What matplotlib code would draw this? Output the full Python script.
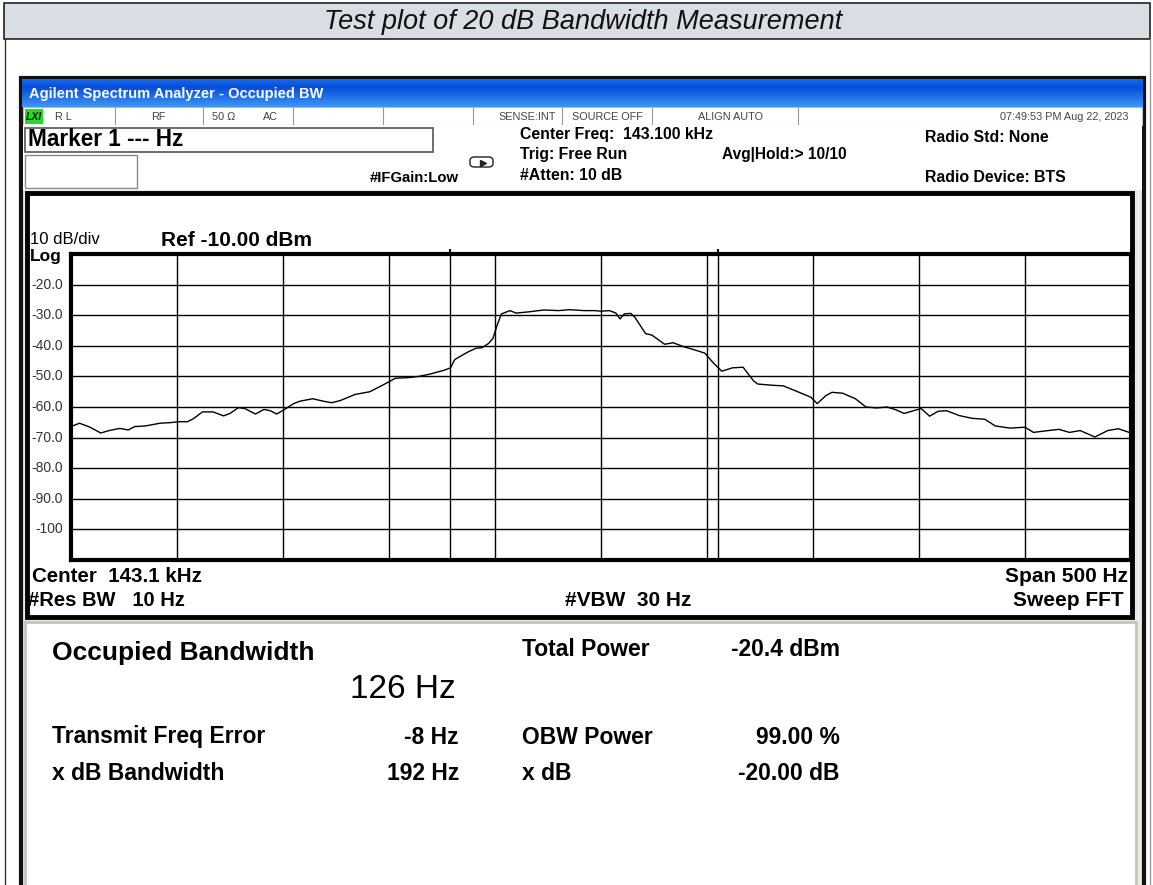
import numpy as np
import matplotlib
matplotlib.use("Agg")
import matplotlib.pyplot as plt
from matplotlib.patches import Rectangle, FancyBboxPatch

# ---- trace (offset from 143.1 kHz, Hz / dBm)
freq_hz = [-250, -246, -241, -236, -232, -227, -223, -220, -215, -208, -203, -199,
           -195, -192, -188, -183, -178, -175, -171, -168, -163, -159, -156, -153,
           -150, -145, -142, -136, -131, -127, -123, -116, -109, -102, -97, -91,
           -86, -81, -74, -71, -69, -63, -59, -56, -53, -51, -49, -47, -43, -40,
           -34, -27, -20, -15, -8, -3, 0, 4, 7, 9, 11, 14, 16, 21, 24, 30, 34, 39,
           44, 49, 53, 57, 62, 67, 72, 74, 81, 86, 91, 99, 102, 106, 109, 114, 120,
           125, 130, 135, 139, 143, 148, 151, 155, 159, 163, 169, 175, 181, 186,
           193, 200, 204, 211, 216, 221, 226, 233, 239, 244, 250]
level_dbm = [-66.4, -65.3, -66.6, -68.5, -67.7, -67.0, -67.5, -66.4, -66.2, -65.3,
             -65.1, -64.8, -64.8, -63.7, -61.6, -61.6, -62.9, -62.1, -60.2, -60.5,
             -62.3, -60.8, -61.2, -62.3, -61.1, -58.9, -58.1, -57.3, -58.1, -58.6,
             -57.9, -55.9, -55.0, -52.5, -50.6, -50.4, -50.0, -49.3, -48.0, -47.2,
             -44.5, -42.1, -40.8, -40.6, -39.2, -37.6, -33.3, -29.6, -28.5, -29.3,
             -28.9, -28.3, -28.5, -28.2, -28.5, -28.5, -28.7, -28.5, -29.3, -31.2,
             -29.6, -29.4, -30.7, -36.0, -36.5, -39.5, -39.0, -40.3, -41.3, -42.4,
             -45.6, -48.3, -47.2, -47.0, -51.5, -52.5, -52.9, -53.1, -54.5, -56.8,
             -58.9, -56.3, -55.2, -55.5, -57.3, -60.0, -60.3, -60.0, -60.9, -62.1,
             -61.1, -60.5, -63.0, -61.4, -61.2, -62.8, -63.7, -64.0, -66.2, -66.9,
             -66.6, -68.3, -67.7, -67.3, -68.3, -67.7, -69.8, -67.7, -67.1, -68.5]

span_hz = 500
ref_dbm = -10
db_per_div = 10
obw_hz = 126
freq_err_hz = -8
y_tick_labels = ["-20.0", "-30.0", "-40.0", "-50.0", "-60.0", "-70.0", "-80.0", "-90.0", "-100"]

W, H = 1153, 885
plt.rcParams["font.family"] = ["Liberation Sans", "DejaVu Sans"]
fig = plt.figure(figsize=(W / 100, H / 100), dpi=100)


def fx(x):
    return x / W


def fy(y):
    return 1 - y / H


def rect(x0, y0, x1, y1, **kw):
    kw.setdefault("zorder", -10)
    fig.patches.append(Rectangle((fx(x0), fy(y1)), (x1 - x0) / W, (y1 - y0) / H,
                                 transform=fig.transFigure, **kw))


def vline(x, y0, y1, **kw):
    fig.lines.append(plt.Line2D([fx(x), fx(x)], [fy(y0), fy(y1)],
                                transform=fig.transFigure, **kw))


def txt(x, y, s, **kw):
    kw.setdefault("va", "center")
    kw.setdefault("zorder", 5)
    fig.text(fx(x), fy(y), s, **kw)


# page / report table
rect(4, 3, 1150, 39, facecolor="#d9dde4", edgecolor="#222222", lw=1.2)
txt(583, 22, "Test plot of 20 dB Bandwidth Measurement", ha="center",
    fontsize=19.5, style="italic", color="#111111")
vline(4.5, 39, 885, color="#333333", lw=1)
vline(1150, 39, 885, color="#999999", lw=1)

# analyzer window
rect(21, 78, 1144, 890, facecolor="#ecebe6", edgecolor="#111111", lw=3)
bar = fig.add_axes([fx(22), fy(107), (1143 - 22) / W, 28 / H])
g = np.linspace(0, 1, 40)[:, None]
shade = np.abs(g - 0.72)
bar.imshow(np.dstack([0.02 + 0.3 * shade, 0.30 + 0.4 * shade, 0.86 + 0.14 * shade]),
           aspect="auto", extent=[0, 1, 0, 1], origin="lower")
bar.set_axis_off()
txt(29, 94, "Agilent Spectrum Analyzer - Occupied BW", color="white", fontsize=10.5,
    fontweight="bold")

# status row
rect(23, 107, 1142, 125, facecolor="white", edgecolor="#bbbbbb", lw=0.8)
rect(25, 109, 43, 124, facecolor="#22dd22", edgecolor="none", zorder=-5)
txt(26, 116.5, "LXI", fontsize=7.5, style="italic", fontweight="bold", color="#111111")
for xd in [115, 203, 293, 383, 473, 562, 652, 798]:
    vline(xd, 108, 124, color="#999999", lw=0.8)
status = [(55, "R L", "left"), (158, "RF", "center"), (212, "50 \u03a9", "left"),
          (263, "AC", "left"), (527, "SENSE:INT", "center"), (607, "SOURCE OFF", "center"),
          (730, "ALIGN AUTO", "center"), (1128, "07:49:53 PM Aug 22, 2023", "right")]
for xs, s, ha in status:
    txt(xs, 116.5, s, fontsize=7.8, color="#444444", ha=ha)

# header area
rect(23, 125, 1142, 190, facecolor="white", edgecolor="none")
rect(25, 128, 433, 152, facecolor="white", edgecolor="#555555", lw=1.2)
txt(28, 140, "Marker 1 --- Hz", fontsize=16.3, fontweight="bold")
rect(25, 155, 137, 188, facecolor="white", edgecolor="#888888", lw=1)
txt(370, 178, "#IFGain:Low", fontsize=10.7, fontweight="bold")
fig.patches.append(FancyBboxPatch((fx(470), fy(167)), 23 / W, 10 / H,
                                  boxstyle="round,pad=0,rounding_size=0.004",
                                  transform=fig.transFigure, facecolor="white",
                                  edgecolor="#333333", lw=1.1, zorder=2))
fig.lines.append(plt.Line2D([fx(483)], [fy(163)], transform=fig.transFigure, marker=">",
                            markersize=5, color="#222222", zorder=3))
txt(520, 135, "Center Freq:  143.100 kHz", fontsize=11.4, fontweight="bold")
txt(520, 155, "Trig: Free Run", fontsize=11.4, fontweight="bold")
txt(520, 175, "#Atten: 10 dB", fontsize=11.4, fontweight="bold")
txt(722, 155, "Avg|Hold:> 10/10", fontsize=11.2, fontweight="bold")
txt(925, 137, "Radio Std: None", fontsize=11.4, fontweight="bold")
txt(925, 178, "Radio Device: BTS", fontsize=11.4, fontweight="bold")

# plot frame
rect(27, 193, 1132, 617, facecolor="white", edgecolor="#000000", lw=3.5)
txt(30, 240, "10 dB/div", fontsize=12)
txt(30, 256, "Log", fontsize=12.5, fontweight="bold")
txt(161, 240, "Ref -10.00 dBm", fontsize=15, fontweight="bold")

ax = fig.add_axes([fx(71), fy(560), (1131 - 71) / W, (560 - 254) / H])
ax.set_xlim(-span_hz / 2, span_hz / 2)
ax.set_ylim(ref_dbm - 10 * db_per_div, ref_dbm)
ax.set_xticks(np.arange(-span_hz / 2, span_hz / 2 + 1, span_hz / 10))
ax.set_yticks(np.arange(-100, -19, 10))
ax.grid(True, color="black", lw=1)
ax.tick_params(length=0, labelbottom=False, labelleft=False)
for sp in ax.spines.values():
    sp.set_linewidth(3)
for i, lab in enumerate(y_tick_labels):
    ax.text(-0.0075, (-20 - 10 * i - (ref_dbm - 100)) / 100, lab, transform=ax.transAxes,
            ha="right", va="center", fontsize=10, color="#333333")
# OBW marker lines
for f in [freq_err_hz - obw_hz / 2, freq_err_hz + obw_hz / 2]:
    ax.axvline(f, color="black", lw=1)
    ax.plot([f, f], [ref_dbm, ref_dbm + 1.2], color="black", lw=1.5, clip_on=False)
ax.plot(freq_hz, level_dbm, color="black", lw=1.0)

txt(32, 577, "Center  143.1 kHz", fontsize=14.8, fontweight="bold")
txt(28, 600, "#Res BW   10 Hz", fontsize=14.5, fontweight="bold")
txt(565, 600, "#VBW  30 Hz", fontsize=15, fontweight="bold")
txt(1128, 576, "Span 500 Hz", fontsize=15, fontweight="bold", ha="right")
txt(1124, 601, "Sweep FFT", fontsize=15, fontweight="bold", ha="right")

# results panel
rect(25, 622, 1136, 890, facecolor="white", edgecolor="#c8c4b8", lw=2)
txt(52, 653, "Occupied Bandwidth", fontsize=19, fontweight="bold")
txt(456, 689, "126 Hz", fontsize=24, ha="right")
txt(52, 737, "Transmit Freq Error", fontsize=16.5, fontweight="bold")
txt(459, 737, "-8 Hz", fontsize=16.5, fontweight="bold", ha="right")
txt(52, 774, "x dB Bandwidth", fontsize=16.5, fontweight="bold")
txt(459, 774, "192 Hz", fontsize=16.5, fontweight="bold", ha="right")
txt(522, 649, "Total Power", fontsize=16.5, fontweight="bold")
txt(840, 649, "-20.4 dBm", fontsize=16.5, fontweight="bold", ha="right")
txt(522, 737, "OBW Power", fontsize=16.5, fontweight="bold")
txt(840, 737, "99.00 %", fontsize=16.5, fontweight="bold", ha="right")
txt(522, 774, "x dB", fontsize=16.5, fontweight="bold")
txt(840, 774, "-20.00 dB", fontsize=16.5, fontweight="bold", ha="right")

fig.savefig("out.png", dpi=100)
